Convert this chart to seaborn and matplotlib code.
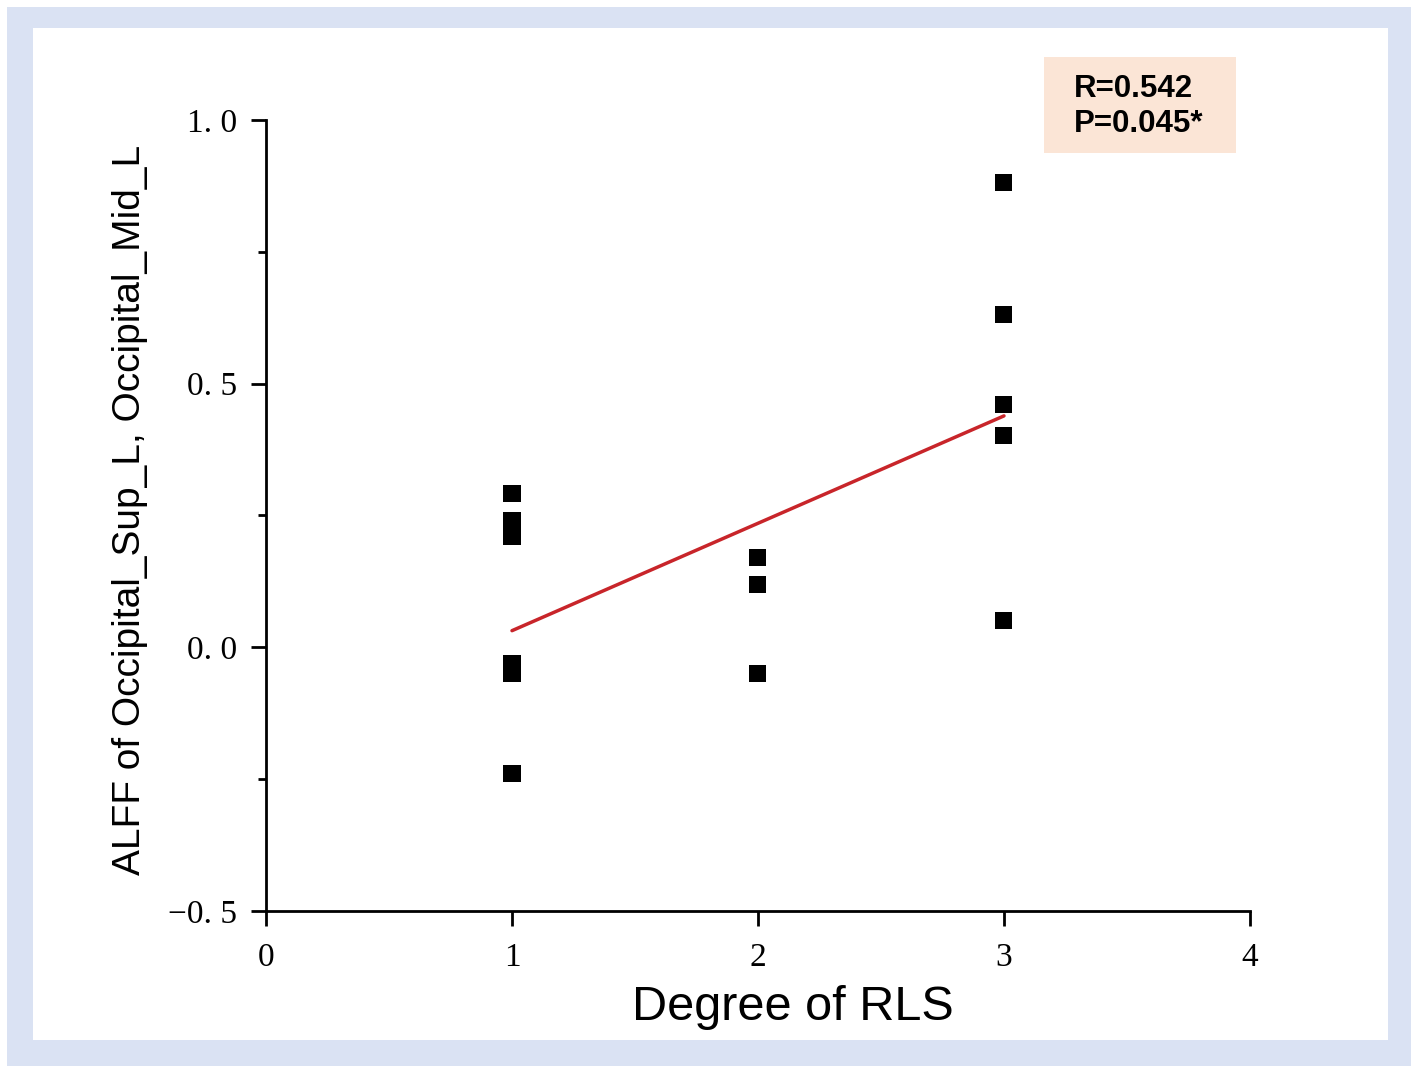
import numpy as np
import pandas as pd
import seaborn as sns
import matplotlib.pyplot as plt
from matplotlib.patches import Rectangle
from matplotlib.ticker import MultipleLocator

# values
degree = [1, 1, 1, 1, 1, 1, 2, 2, 2, 3, 3, 3, 3, 3]
alff = [0.291, 0.240, 0.210, -0.030, -0.050, -0.240,
        0.171, 0.120, -0.049,
        0.882, 0.632, 0.461, 0.401, 0.050]
x_ticks = [0, 1, 2, 3, 4]
x_tick_labels = ["0", "1", "2", "3", "4"]
y_ticks = [-0.5, 0.0, 0.5, 1.0]
y_tick_labels = ["\u22120. 5", "0. 0", "0. 5", "1. 0"]
stats_text = "R=0.542\nP=0.045*"

df = pd.DataFrame({"degree": degree, "alff": alff})

sns.set_style("ticks")
plt.rcParams["font.family"] = ["Liberation Sans", "DejaVu Sans"]
plt.rcParams["text.color"] = "black"
plt.rcParams["axes.labelcolor"] = "black"
plt.rcParams["xtick.color"] = "black"
plt.rcParams["ytick.color"] = "black"

fig = plt.figure(figsize=(14.18, 10.73), dpi=100)
fig.patch.set_facecolor("white")

# light blue frame with white panel inside
fig.patches.append(Rectangle((0.0049, 0.0065), 0.990, 0.987, transform=fig.transFigure,
                             facecolor="#dae2f3", edgecolor="none", zorder=-2))
fig.patches.append(Rectangle((0.0233, 0.0308), 0.9556, 0.9431, transform=fig.transFigure,
                             facecolor="white", edgecolor="none", zorder=-1))

ax = fig.add_axes([0.1876, 0.151, 0.6939, 0.7372])
ax.set_zorder(1)
ax.set_facecolor("none")

sns.regplot(data=df, x="degree", y="alff", ax=ax, ci=None, marker="s",
            scatter_kws={"s": 150, "color": "black", "edgecolors": "none", "alpha": 1},
            line_kws={"color": "#c8252a", "linewidth": 2.5})

ax.set_xlim(0, 4)
ax.set_ylim(-0.5, 1.0)
ax.set_xticks(x_ticks)
ax.set_xticklabels(x_tick_labels, family="Liberation Serif", fontsize=24, color="black")
ax.set_yticks(y_ticks)
ax.set_yticklabels(y_tick_labels, family="Liberation Serif", fontsize=24, color="black")
ax.yaxis.set_minor_locator(MultipleLocator(0.25))

ax.tick_params(axis="both", which="major", direction="out", length=11, width=2)
ax.tick_params(axis="x", which="major", pad=12)
ax.tick_params(axis="y", which="major", pad=10)
ax.tick_params(axis="y", which="minor", direction="out", length=6, width=2)

for side in ["top", "right"]:
    ax.spines[side].set_visible(False)
for side in ["left", "bottom"]:
    ax.spines[side].set_linewidth(2)
    ax.spines[side].set_color("black")

ax.set_xlabel("Degree of RLS", fontsize=35, color="black")
ax.set_ylabel("ALFF of Occipital_Sup_L, Occipital_Mid_L", fontsize=28, color="black")
ax.xaxis.set_label_coords(0.535, -0.094)
ax.yaxis.set_label_coords(-0.12, 0.507)

# stats box above the top right of the axes
ax.add_patch(Rectangle((0.791, 0.958), 0.195, 0.122, transform=ax.transAxes,
                       facecolor="#fbe5d6", edgecolor="none", clip_on=False, zorder=3))
ax.text(0.821, 1.017, stats_text, transform=ax.transAxes, fontsize=22.5, fontweight="bold",
        color="black", va="center", ha="left", linespacing=1.25, zorder=4)

fig.savefig("out.png", dpi=100)
